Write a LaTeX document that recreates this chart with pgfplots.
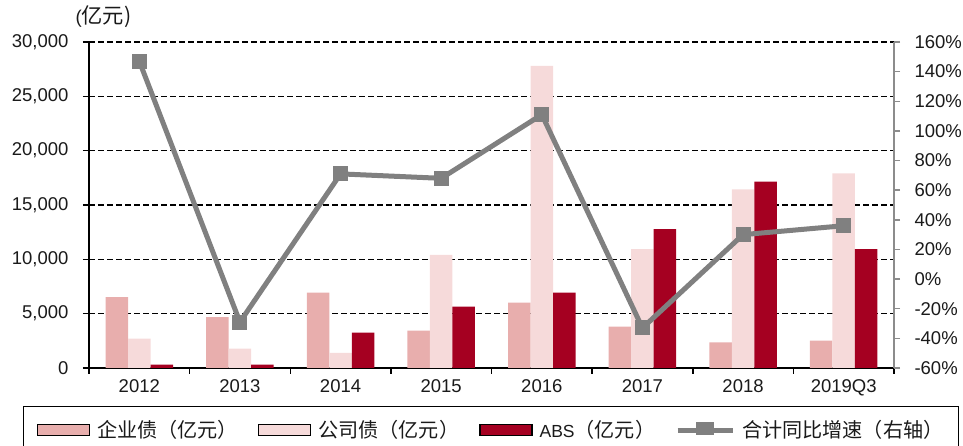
\documentclass[border=0pt]{standalone}
\usepackage{pgfplots}
\pgfplotsset{compat=1.18}
\usepackage{fontspec}
\setmainfont{Liberation Sans}
\newfontfamily\cjk[Scale=1.15]{Noto Sans CJK SC}
\definecolor{qyz}{HTML}{E8AEAD}
\definecolor{gsz}{HTML}{F6DADA}
\definecolor{abs}{HTML}{A50021}
\definecolor{ln}{HTML}{808080}
\definecolor{rax}{HTML}{8C8C8C}
\definecolor{txt}{HTML}{1A1A1A}
\pgfplotsset{
  barleg/.style={legend image code/.code={\fill[##1] (0pt,-5.5pt) rectangle (52pt,5.5pt);}},
  lineleg/.style={legend image code/.code={\draw[##1,line width=5pt] (0pt,0pt) -- (55pt,0pt); \fill[ln] (21pt,-2.5pt) rectangle (34pt,6pt);}},
  common/.style={
    scale only axis, width=805pt, height=326pt,
    at={(89pt,78pt)}, anchor=south west,
    xmin=-0.5, xmax=7.5,
    tick align=outside,
    tick label style={font=\fontsize{18.5}{21}\selectfont, text=txt},
    /pgf/number format/assume math mode=true,
    scaled y ticks=false,
    clip mode=individual,
  }
}
\begin{document}
\begin{tikzpicture}
\useasboundingbox (0,0) rectangle (963pt,446pt);
\begin{axis}[common,
  ybar=0pt, bar width=22.5pt,
  ymin=0, ymax=30000, ytick={0,5000,...,30000},
  /pgf/number format/1000 sep={,},
  axis y line*=left, axis x line*=bottom,
  axis line style={black, line width=1.8pt},
  xtick={0,...,7},
  xticklabels={2012,2013,2014,2015,2016,2017,2018,2019Q3},
  major x tick style={draw=none},
  minor xtick={-0.5,0.5,...,7.5},
  minor tick length=6pt,
  minor x tick style={black, line width=1.5pt},
  major y tick style={black, line width=1.5pt},
  major tick length=6pt,
  yticklabel style={xshift=-11pt},
  xticklabel style={yshift=-2pt},
  ymajorgrids, grid style={black, line width=1.6pt, dash pattern=on 6pt off 3pt},
]
\addplot[fill=qyz, draw=none] coordinates {(0,6530) (1,4690) (2,6930) (3,3430) (4,6010) (5,3800) (6,2360) (7,2510)};
\addplot[fill=gsz, draw=none] coordinates {(0,2700) (1,1780) (2,1400) (3,10400) (4,27800) (5,10950) (6,16440) (7,17910)};
\addplot[fill=abs, draw=none] coordinates {(0,300) (1,300) (2,3250) (3,5640) (4,6930) (5,12790) (6,17140) (7,10950)};
\node[font=\fontsize{18.5}{21}\selectfont, text=txt] at (axis description cs:0.018,1.077) {(\cjk{亿元})};
\end{axis}
\begin{axis}[common,
  ymin=-60, ymax=160, ytick={-60,-40,...,160},
  axis y line*=right, axis x line=none,
  axis line style={rax, line width=1.8pt},
  major y tick style={rax, line width=1.5pt},
  major tick length=6pt,
  yticklabel={\pgfmathprintnumber{\tick}\%},
  yticklabel style={xshift=11pt},
  legend columns=4,
  legend style={at={(-0.082,-0.1166)}, anchor=north west, draw=black, line width=1.4pt,
    font=\fontsize{17.5}{20}\selectfont, text=txt, inner xsep=13pt, inner ysep=12pt,
    /tikz/every odd column/.append style={column sep=5pt},
    /tikz/every even column/.append style={column sep=18pt}},
  legend cell align=left,
]
\addlegendimage{barleg, fill=qyz}
\addlegendentry{\cjk{企业债（亿元）}}
\addlegendimage{barleg, fill=gsz}
\addlegendentry{\cjk{公司债（亿元）}}
\addlegendimage{barleg, fill=abs}
\addlegendentry{ABS\cjk{（亿元）}}
\addplot[ln, line width=5pt, mark=square*, mark size=7pt, mark options={fill=ln, draw=ln, line width=0pt}, lineleg] coordinates {(0,147) (1,-29) (2,71) (3,68) (4,111) (5,-33) (6,30) (7,36)};
\addlegendentry{\cjk{合计同比增速（右轴）}}
\end{axis}
\end{tikzpicture}
\end{document}
